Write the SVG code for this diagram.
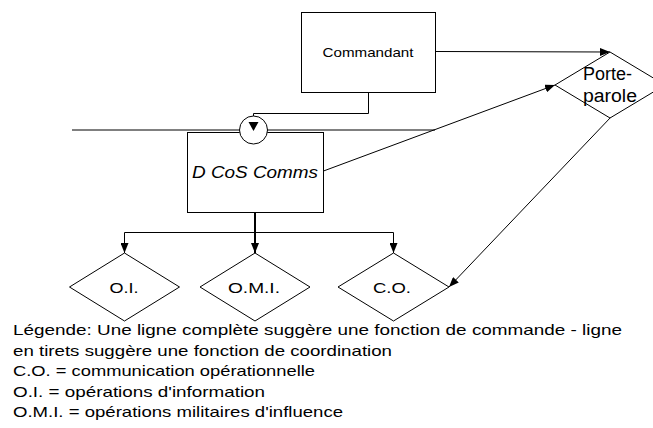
<svg xmlns="http://www.w3.org/2000/svg" width="653" height="428" viewBox="0 0 653 428">
  <style>
    .box { fill: #ffffff; stroke: #000000; stroke-width: 1; }
    .dia { fill: #ffffff; stroke: #000000; stroke-width: 1; }
    .ln { fill: none; stroke: #000000; stroke-width: 1; }
    .bold { fill: none; stroke: #000000; stroke-width: 2; }
    .t { font-family: "Liberation Sans", Arial, sans-serif; fill: #000000; }
    .lbl { font-size: 14px; text-anchor: middle; }
    .leg { font-size: 15px; }
  </style>
  <defs>
    <marker id="arr" viewBox="0 0 10 8" refX="10" refY="4" markerWidth="10" markerHeight="8" markerUnits="userSpaceOnUse" orient="auto">
      <path d="M0,0 L10,4 L0,8 Z" fill="#000000"/>
    </marker>
  </defs>

  <g id="connectors">
    <!-- command / coordination line across the staff level -->
    <line x1="72" y1="130" x2="435" y2="130" stroke="#000000" stroke-width="1"/>
    <!-- Commandant to Porte-parole -->
    <polyline class="ln" points="435.5,51.5 610,52" marker-end="url(#arr)"/>
    <!-- Commandant down to the junction -->
    <polyline class="ln" points="368.5,92.5 368.5,113.5 253.5,113.5 253.5,131" marker-end="url(#arr)"/>
    <!-- D CoS Comms to Porte-parole -->
    <line class="ln" x1="323.5" y1="171" x2="555" y2="85" marker-end="url(#arr)"/>
    <!-- Porte-parole to C.O. -->
    <line class="ln" x1="611" y1="117" x2="449" y2="287" marker-end="url(#arr)"/>
    <!-- D CoS Comms down to the three cells -->
    <line class="bold" x1="255" y1="212.5" x2="255" y2="253" marker-end="url(#arr)"/>
    <polyline class="ln" points="124.5,253 124.5,232.5 393.5,232.5 393.5,253"/>
    <line class="ln" x1="124.5" y1="240" x2="124.5" y2="253" marker-end="url(#arr)"/>
    <line class="ln" x1="393.5" y1="240" x2="393.5" y2="253" marker-end="url(#arr)"/>
  </g>

  <g id="commandant">
    <rect class="box" x="301.5" y="12.5" width="134" height="80"/>
    <text class="t" x="368" y="57" font-size="13" text-anchor="middle" textLength="91" lengthAdjust="spacingAndGlyphs">Commandant</text>
  </g>

  <g id="dcos-comms">
    <rect class="box" x="187.5" y="132.5" width="136" height="80"/>
    <text class="t" x="255" y="178" font-size="17" font-style="italic" text-anchor="middle" textLength="126" lengthAdjust="spacingAndGlyphs">D CoS Comms</text>
  </g>

  <g id="junction">
    <circle cx="253.5" cy="130" r="14" fill="#ffffff" stroke="#000000" stroke-width="1"/>
    <path d="M248.5,122 L258.5,122 L253.5,131 Z" fill="#000000"/>
  </g>

  <g id="porte-parole">
    <polygon class="dia" points="610,52 665,85 610,118 555,85"/>
    <text class="t" x="607.5" y="80" font-size="18" text-anchor="middle" textLength="49" lengthAdjust="spacingAndGlyphs">Porte-</text>
    <text class="t" x="610" y="102" font-size="18" text-anchor="middle" textLength="54" lengthAdjust="spacingAndGlyphs">parole</text>
  </g>

  <g id="oi">
    <polygon class="dia" points="124.5,253 179.5,287 124.5,321 69.5,287"/>
    <text class="t lbl" x="124" y="293" textLength="29" lengthAdjust="spacingAndGlyphs">O.I.</text>
  </g>

  <g id="omi">
    <polygon class="dia" points="255,253 310,287 255,321 200,287"/>
    <text class="t lbl" x="254" y="293" textLength="52" lengthAdjust="spacingAndGlyphs">O.M.I.</text>
  </g>

  <g id="co">
    <polygon class="dia" points="393.5,253 449,287 393.5,321 338,287"/>
    <text class="t lbl" x="392" y="293" textLength="38" lengthAdjust="spacingAndGlyphs">C.O.</text>
  </g>

  <g id="legend" class="t leg">
    <text x="13" y="335" textLength="609" lengthAdjust="spacingAndGlyphs">Légende: Une ligne complète suggère une fonction de commande - ligne</text>
    <text x="13" y="356" textLength="379" lengthAdjust="spacingAndGlyphs">en tirets suggère une fonction de coordination</text>
    <text x="13" y="376" textLength="302" lengthAdjust="spacingAndGlyphs">C.O. = communication opérationnelle</text>
    <text x="13" y="397" textLength="252" lengthAdjust="spacingAndGlyphs">O.I. = opérations d'information</text>
    <text x="13" y="417" textLength="330" lengthAdjust="spacingAndGlyphs">O.M.I. = opérations militaires d'influence</text>
  </g>
</svg>
